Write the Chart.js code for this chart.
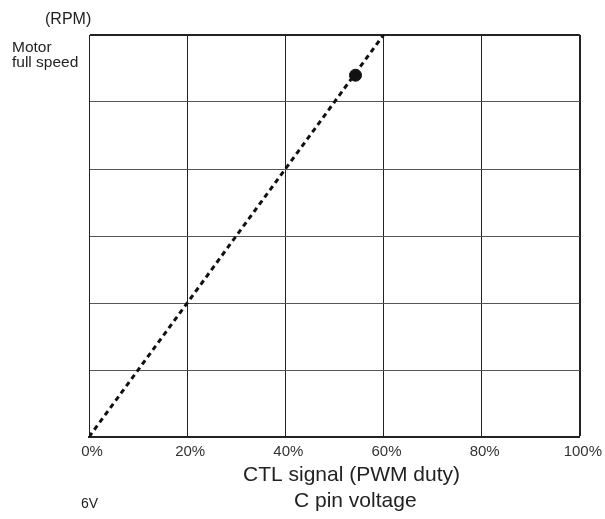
<!DOCTYPE html>
<html>
<head>
<meta charset="utf-8">
<script src="https://cdn.jsdelivr.net/npm/chart.js@4"></script>
<style>
  html, body { margin: 0; padding: 0; background: #fff; }
  #wrap { width: 605px; height: 519px; position: relative; }
</style>
</head>
<body>
<div id="wrap"><canvas id="motorChart"></canvas></div>
<script>
// data
const dutyTicks = [0, 20, 40, 60, 80, 100];
const speedLevels = 6;
const lineDuty = [0, 60];
const lineSpeed = [0, 6];
const pointDuty = [54.3];
const pointSpeed = [5.4];

const FONT = "'Liberation Sans', Arial, sans-serif";

// extra labels outside the plot
const labelsPlugin = {
  id: "labels",
  afterDraw(chart) {
    const c = chart.ctx;
    c.save();
    c.fillStyle = "#222";
    c.textBaseline = "alphabetic";
    c.textAlign = "left";
    c.font = "16px " + FONT;
    c.fillText("(RPM)", 45, 24);
    c.font = "15.5px " + FONT;
    c.fillText("Motor", 12, 52);
    c.fillText("full speed", 12, 67);
    c.font = "14px " + FONT;
    c.fillText("6V", 81, 508);
    c.font = "21px " + FONT;
    c.fillText("CTL signal (PWM duty)", 243, 481);
    c.fillText("C pin voltage", 294, 507);
    c.restore();
  },
};

const ctx = document.getElementById("motorChart");
new Chart(ctx, {
  type: "line",
  data: {
    datasets: [
      {
        data: lineDuty.map((d, i) => ({ x: d, y: lineSpeed[i] })),
        borderColor: "#111",
        borderWidth: 3,
        borderDash: [5, 4],
        pointRadius: 0,
        fill: false,
        tension: 0,
      },
      {
        data: pointDuty.map((d, i) => ({ x: d, y: pointSpeed[i] })),
        showLine: false,
        pointRadius: 6,
        pointBackgroundColor: "#111",
        pointBorderColor: "#111",
      },
    ],
  },
  options: {
    responsive: true,
    maintainAspectRatio: false,
    animation: false,
    layout: { padding: { top: 35, right: 24, left: 0, bottom: 0 } },
    plugins: { legend: { display: false }, tooltip: { enabled: false } },
    scales: {
      x: {
        type: "linear",
        min: dutyTicks[0],
        max: dutyTicks[dutyTicks.length - 1],
        afterBuildTicks: (s) => { s.ticks = dutyTicks.map((v) => ({ value: v })); },
        afterFit: (s) => { s.height = 82; },
        ticks: {
          callback: (v) => v + "%",
          color: "#333",
          font: { family: FONT, size: 15 },
          padding: 6,
          labelOffset: 3,
          maxRotation: 0,
        },
        grid: {
          color: "#222",
          lineWidth: (c) => (c.tick && c.tick.value === 100 ? 2 : 1),
          drawTicks: false,
        },
        border: { color: "#222", width: 2 },
      },
      y: {
        min: 0,
        max: speedLevels,
        afterFit: (s) => { s.width = 89; },
        ticks: { display: false, stepSize: 1 },
        grid: {
          color: (c) => (c.tick && c.tick.value === speedLevels ? "#222" : "#555"),
          lineWidth: (c) => (c.tick && c.tick.value === speedLevels ? 2 : 1),
          drawTicks: false,
        },
        border: { color: "#222", width: 1 },
      },
    },
  },
  plugins: [labelsPlugin],
});
</script>
</body>
</html>
